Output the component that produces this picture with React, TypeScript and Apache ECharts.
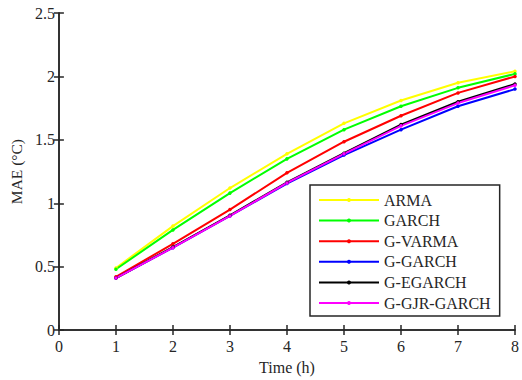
import React, { useEffect, useRef } from "react";
import * as echarts from "echarts";

const hours = [1, 2, 3, 4, 5, 6, 7, 8];
const seriesNames = ["ARMA", "GARCH", "G-VARMA", "G-GARCH", "G-EGARCH", "G-GJR-GARCH"];
const arma = [0.49, 0.82, 1.12, 1.39, 1.63, 1.81, 1.95, 2.04];
const garch = [0.48, 0.79, 1.08, 1.35, 1.58, 1.765, 1.91, 2.02];
const gVarma = [0.42, 0.68, 0.95, 1.24, 1.485, 1.69, 1.87, 2.0];
const gGarch = [0.41, 0.65, 0.9, 1.155, 1.38, 1.58, 1.765, 1.9];
const gEgarch = [0.41, 0.655, 0.905, 1.165, 1.395, 1.62, 1.8, 1.94];
const gGjrGarch = [0.41, 0.65, 0.9, 1.16, 1.39, 1.61, 1.79, 1.93];
const seriesColors = ["#FFFF00", "#00FF00", "#FF0000", "#0000FF", "#000000", "#FF00FF"];
const xTicks = [0, 1, 2, 3, 4, 5, 6, 7, 8];
const yTicks = [0, 0.5, 1, 1.5, 2, 2.5];

const FONT = "Liberation Serif";
const AXIS_COLOR = "#262626";

export default function App() {
  const ref = useRef<HTMLDivElement>(null);
  useEffect(() => {
    if (!ref.current) return;
    const chart = echarts.init(ref.current, undefined, { renderer: "svg" });
    const allData = [arma, garch, gVarma, gGarch, gEgarch, gGjrGarch];
    const axisLine = { show: true, lineStyle: { color: AXIS_COLOR, width: 1.5 } };
    const axisTick = { show: true, inside: true, length: 5, lineStyle: { color: AXIS_COLOR, width: 1.5 } };
    const labelStyle = { fontFamily: FONT, fontSize: 16, color: "#262626" };
    chart.setOption({
      animation: false,
      backgroundColor: "#ffffff",
      grid: { left: 52, right: 5, top: 13, bottom: 46, containLabel: false },
      legend: {
        orient: "vertical",
        left: 310,
        top: 185,
        padding: [7, 9, 5, 8],
        itemWidth: 60,
        itemHeight: 5,
        itemGap: 4.6,
        backgroundColor: "#ffffff",
        borderColor: AXIS_COLOR,
        borderWidth: 1.5,
        borderRadius: 0,
        textStyle: { fontFamily: FONT, fontSize: 16, color: "#262626" },
        data: seriesNames,
      },
      xAxis: [
        {
          type: "value",
          min: xTicks[0],
          max: xTicks[xTicks.length - 1],
          interval: 1,
          name: "Time (h)",
          nameLocation: "middle",
          nameGap: 27,
          nameTextStyle: { fontFamily: FONT, fontSize: 16, color: "#262626" },
          axisLine,
          axisTick,
          axisLabel: { ...labelStyle, margin: 8 },
          splitLine: { show: false },
        },
        {
          type: "value",
          position: "top",
          min: xTicks[0],
          max: xTicks[xTicks.length - 1],
          interval: 1,
          axisLine,
          axisTick,
          axisLabel: { show: false },
          splitLine: { show: false },
        },
      ],
      yAxis: [
        {
          type: "value",
          min: yTicks[0],
          max: yTicks[yTicks.length - 1],
          interval: 0.5,
          name: "MAE (°C)",
          nameLocation: "middle",
          nameGap: 32,
          nameTextStyle: { fontFamily: FONT, fontSize: 15.5, color: "#262626" },
          axisLine,
          axisTick,
          axisLabel: { ...labelStyle, margin: 4 },
          splitLine: { show: false },
        },
        {
          type: "value",
          position: "right",
          min: yTicks[0],
          max: yTicks[yTicks.length - 1],
          interval: 0.5,
          axisLine,
          axisTick,
          axisLabel: { show: false },
          splitLine: { show: false },
        },
      ],
      series: seriesNames.map((name, i) => ({
        name,
        type: "line",
        xAxisIndex: 0,
        yAxisIndex: 0,
        data: hours.map((h, j) => [h, allData[i][j]]),
        color: seriesColors[i],
        lineStyle: { width: 2, color: seriesColors[i] },
        itemStyle: { color: seriesColors[i] },
        symbol: "circle",
        symbolSize: 3.5,
        showSymbol: true,
      })),
    });
    return () => chart.dispose();
  }, []);
  return (
    <div
      ref={ref}
      style={{ position: "fixed", left: 0, top: 0, width: 522, height: 380 }}
    />
  );
}
